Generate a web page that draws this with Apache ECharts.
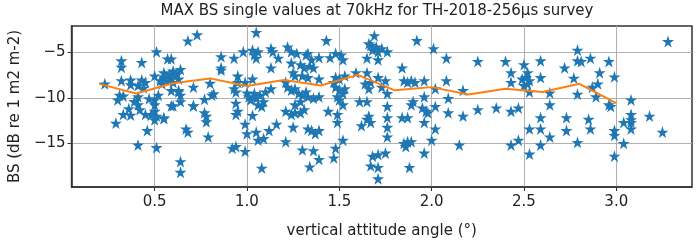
<!DOCTYPE html>
<html>
<head>
<meta charset="utf-8">
<script src="https://cdn.jsdelivr.net/npm/echarts@6/dist/echarts.min.js"></script>
<style>
  html, body { margin: 0; padding: 0; background: #fff; }
  #chart { width: 699px; height: 244px; }
</style>
</head>
<body>
<div id="chart"></div>
<script>
// mean curve (orange)
const lineX = [0.2, 0.4, 0.6, 0.8, 1.0, 1.2, 1.4, 1.6, 1.8, 2.0, 2.2, 2.4, 2.6, 2.8, 3.0];
const lineY = [-8.46, -9.52, -8.40, -7.86, -8.70, -8.04, -8.64, -7.47, -9.17, -8.82, -9.63, -9.00, -9.35, -8.46, -10.58];

// single values [angle, BS]
const starPoints = [
  [0.23,-8.46],[0.32,-5.92],[0.32,-6.63],[0.43,-6.10],[0.32,-8.11],[0.37,-8.04],[0.30,-10.23],[0.31,-9.70],
  [0.41,-8.64],[0.43,-8.04],[0.45,-8.29],[0.41,-9.88],[0.41,-10.76],[0.42,-11.29],[0.45,-11.82],[0.33,-11.82],
  [0.37,-11.89],[0.29,-12.77],[0.46,-13.59],[0.41,-15.18],[0.51,-4.93],
  [0.50,-7.58],[0.53,-8.11],[0.55,-7.69],[0.54,-8.46],[0.58,-7.93],[0.60,-7.05],[0.62,-7.40],[0.64,-6.87],
  [0.60,-8.29],[0.63,-7.93],[0.57,-5.71],[0.59,-5.71],
  [0.50,-10.23],[0.50,-10.76],[0.50,-11.47],[0.51,-12.00],[0.50,-12.42],[0.55,-12.28],
  [0.52,-9.70],[0.51,-15.46],[0.59,-10.87],[0.63,-9.35],[0.64,-9.70],[0.64,-10.41],[0.71,-8.82],[0.71,-10.87],
  [0.67,-13.41],[0.68,-13.76],[0.64,-17.01],[0.64,-18.18],[0.68,-3.73],[0.73,-3.06],
  [0.77,-10.16],[0.77,-11.64],[0.78,-12.00],[0.78,-12.63],[0.79,-14.29],[0.80,-8.39],[0.81,-9.70],
  [0.86,-5.46],[0.86,-6.70],[0.86,-6.95],[0.93,-5.64],[0.93,-8.99],[0.95,-8.29],[0.94,-10.58],[0.95,-11.47],
  [0.94,-11.82],[0.92,-15.53],[0.94,-15.35],[0.98,-4.93],[0.99,-12.88],[1.00,-13.94],[0.99,-15.88],
  [1.00,-9.45],[1.01,-9.88],[1.02,-10.23],[1.04,-9.52],[1.05,-10.05],[1.06,-10.76],[1.07,-9.70],[1.09,-10.41],
  [1.08,-10.94],[1.10,-9.35],[1.03,-7.93],[0.99,-8.29],
  [1.03,-4.75],[1.04,-5.28],[1.05,-5.64],[1.06,-4.93],[1.05,-2.81],
  [1.03,-11.93],[1.05,-13.76],[1.06,-14.65],[1.09,-14.47],[1.12,-13.59],[1.08,-17.72],
  [1.13,-4.58],[1.14,-4.93],[1.13,-6.70],[1.16,-12.88],[1.17,-5.64],[1.13,-9.00],
  [0.55,-7.24],[0.58,-7.42],[0.61,-7.60],[0.56,-7.95],[0.59,-9.19],[0.63,-9.19],[0.71,-10.88],[0.60,-10.88],
  [0.55,-12.19],[0.82,-9.54],[0.95,-7.60],[0.94,-9.36],
  [0.37,-8.55],[0.33,-9.80],[0.47,-10.10],[0.48,-11.90],[0.44,-8.90],[0.39,-10.40],[0.36,-11.20],
  [1.22,-4.40],[1.24,-4.93],[1.27,-5.11],[1.32,-5.28],[1.33,-5.11],[1.35,-5.81],[1.39,-5.57],[1.45,-5.57],
  [1.48,-5.11],[1.51,-5.28],[1.52,-5.81],[1.43,-3.69],
  [1.24,-6.17],[1.29,-6.34],[1.31,-6.70],[1.34,-6.52],[1.36,-6.70],[1.25,-7.23],[1.26,-7.58],[1.30,-7.58],
  [1.33,-7.76],[1.39,-7.93],
  [1.21,-8.29],[1.22,-8.82],[1.24,-9.17],[1.26,-8.99],[1.28,-9.52],[1.30,-9.70],[1.32,-9.35],[1.33,-9.88],
  [1.36,-10.05],[1.39,-9.88],[1.29,-10.41],[1.26,-10.76],
  [1.21,-11.47],[1.24,-11.82],[1.26,-11.64],[1.29,-11.64],[1.31,-11.29],[1.25,-13.23],[1.33,-13.41],
  [1.35,-13.59],[1.37,-13.94],[1.39,-13.59],
  [1.21,-14.82],[1.30,-15.71],[1.36,-15.81],[1.39,-16.77],[1.34,-17.58],[1.47,-16.59],[1.48,-15.53],
  [1.44,-11.47],[1.49,-11.82],[1.49,-12.70],
  [1.47,-8.29],[1.48,-8.82],[1.50,-9.17],[1.52,-9.52],[1.49,-9.88],[1.53,-7.58],[1.50,-7.93],[1.48,-7.76],
  [1.52,-10.76],[1.50,-10.23],[1.53,-8.99],[1.52,-14.65],
  [1.59,-7.23],[1.65,-7.23],[1.64,-8.46],[1.67,-8.29],[1.66,-8.99],[1.61,-10.41],[1.65,-10.41],[1.62,-13.06],
  [1.65,-12.35],[1.67,-12.70],[1.66,-12.00],
  [1.66,-4.05],[1.67,-4.22],[1.68,-4.75],[1.70,-4.40],[1.71,-4.93],[1.69,-3.16],[1.73,-4.58],[1.65,-5.64],
  [1.71,-5.81],[1.76,-4.93],
  [1.71,-7.76],[1.75,-8.11],[1.73,-8.82],[1.76,-9.52],
  [1.67,-17.47],[1.71,-17.65],[1.68,-16.41],[1.71,-16.24],[1.75,-16.06],[1.71,-18.89],
  [1.76,-10.94],[1.76,-12.17],[1.76,-13.23],[1.76,-14.29],
  [1.84,-6.70],[1.85,-8.11],[1.87,-8.29],[1.89,-8.11],[1.91,-8.29],[1.96,-8.11],[1.89,-10.76],[1.90,-10.41],
  [1.84,-12.17],[1.87,-12.17],
  [1.85,-15.00],[1.87,-14.82],[1.86,-15.35],[1.89,-14.82],[1.88,-17.65],[1.92,-3.69],
  [1.96,-9.88],[1.95,-11.11],[1.97,-11.47],[1.98,-11.64],[1.96,-12.70],[1.96,-16.06],[2.00,-14.65],
  [2.01,-4.58],[2.02,-8.99],[2.02,-10.94],[2.02,-13.41],[2.08,-5.64],[2.08,-8.11],[2.09,-10.05],[2.09,-11.64],
  [2.15,-15.18],[2.17,-9.17],[2.17,-12.00],[2.25,-5.99],[2.25,-11.29],
  [2.35,-11.11],[2.40,-5.99],[2.43,-7.23],[2.43,-8.29],[2.43,-11.47],[2.47,-11.11],[2.43,-15.18],[2.47,-14.65],
  [2.50,-6.34],[2.49,-7.93],[2.51,-7.76],[2.52,-8.46],[2.53,-8.11],[2.52,-7.23],[2.53,-9.35],[2.50,-8.64],
  [2.53,-13.41],[2.53,-16.17],[2.59,-5.92],[2.59,-7.76],[2.59,-12.17],[2.59,-13.41],[2.59,-15.18],
  [2.64,-9.45],[2.64,-10.76],[2.64,-14.29],[2.72,-6.70],[2.73,-12.17],[2.73,-13.59],[2.77,-7.83],
  [2.79,-4.75],[2.79,-5.92],[2.81,-5.99],[2.79,-9.59],[2.79,-14.89],[2.85,-12.35],[2.86,-13.41],[2.86,-5.64],
  [2.87,-8.82],[2.90,-8.46],[2.89,-9.88],[2.91,-7.23],[2.96,-5.99],[2.99,-7.69],[2.96,-10.76],[2.97,-10.94],
  [2.99,-13.59],[2.99,-14.12],[2.99,-16.41],[3.04,-12.70],[3.04,-15.00],[3.08,-10.23],[3.08,-11.82],
  [3.08,-12.40],[3.08,-12.70],[3.08,-13.41],[3.18,-12.00],[3.25,-13.76],[3.28,-3.80]
];

const xTicks = [0.5, 1.0, 1.5, 2.0, 2.5, 3.0];
const yTicks = [-15, -10, -5];

const starPath = 'path://M0,-100L22.45,-30.9L95.1,-30.9L36.3,11.8L58.8,80.9L0,38.2L-58.8,80.9L-36.3,11.8L-95.1,-30.9L-22.45,-30.9Z';
const font = 'DejaVu Sans';

const chart = echarts.init(document.getElementById('chart'), null, { renderer: 'canvas' });

chart.setOption({
  animation: false,
  backgroundColor: '#fff',
  title: {
    text: 'MAX BS single values at 70kHz for TH-2018-256µs survey',
    left: 377,
    top: 4,
    padding: 0,
    textAlign: 'center',
    textStyle: { fontFamily: font, fontSize: 15, fontWeight: 'normal', color: '#222' }
  },
  grid: {
    left: 67, right: 7, top: 26, bottom: 51,
    show: true, borderColor: '#333', borderWidth: 1.5,
    containLabel: false
  },
  xAxis: {
    type: 'value',
    min: 0.05,
    max: 3.41,
    name: 'vertical attitude angle (°)',
    nameLocation: 'middle',
    nameGap: 37,
    nameTextStyle: { fontFamily: font, fontSize: 15, color: '#222' },
    axisLine: { show: true, onZero: false, lineStyle: { color: '#333', width: 1.5 } },
    axisTick: { show: true, length: 4, customValues: xTicks, lineStyle: { color: '#333' } },
    axisLabel: {
      customValues: xTicks,
      margin: 8,
      fontFamily: font, fontSize: 15, color: '#222',
      formatter: v => v.toFixed(1)
    },
    splitLine: { show: true, lineStyle: { color: '#b0b0b0', width: 1 } }
  },
  yAxis: {
    type: 'value',
    min: -19.8,
    max: -2.1,
    name: 'BS (dB re 1 m2 m-2)',
    nameLocation: 'middle',
    nameGap: 48,
    nameTextStyle: { fontFamily: font, fontSize: 15, color: '#222' },
    axisLine: { show: true, onZero: false, lineStyle: { color: '#333', width: 1.5 } },
    axisTick: { show: true, length: 4, customValues: yTicks, lineStyle: { color: '#333' } },
    axisLabel: {
      customValues: yTicks,
      margin: 6,
      fontFamily: font, fontSize: 15, color: '#222',
      formatter: v => String(v).replace('-', '\u2212')
    },
    splitLine: { show: true, lineStyle: { color: '#b0b0b0', width: 1 } }
  },
  series: [
    {
      type: 'scatter',
      data: starPoints,
      symbol: starPath,
      symbolSize: 12,
      itemStyle: { color: '#1f77b4', opacity: 1 },
      z: 2
    },
    {
      type: 'line',
      data: lineX.map((x, i) => [x, lineY[i]]),
      showSymbol: false,
      symbol: 'none',
      lineStyle: { color: '#ff7f0e', width: 2 },
      z: 3
    }
  ]
});
</script>
</body>
</html>
